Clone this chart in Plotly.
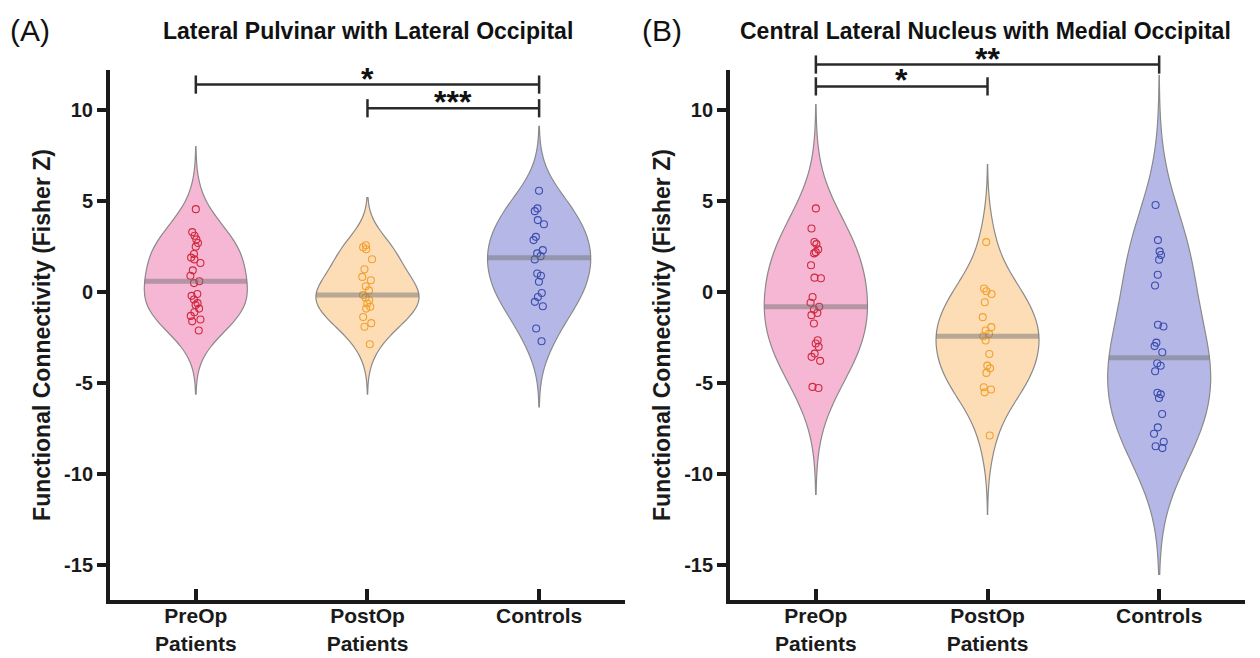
import numpy as np
import plotly.graph_objects as go

# ---------------- data ----------------
group_labels = ["PreOp<br>Patients", "PostOp<br>Patients", "Controls"]
group_pos = [0, 1, 2]
y_tick_vals = [-15, -10, -5, 0, 5, 10]
y_tick_text = ["-15", "-10", "-5", "0", "5", "10"]
panel_titles = ["Lateral Pulvinar with Lateral Occipital",
                "Central Lateral Nucleus with Medial Occipital"]
panel_letters = ["(A)", "(B)"]
y_title = "Functional Connectivity (Fisher Z)"

# Panel A: Lateral Pulvinar with Lateral Occipital
a_preop = [4.56, 3.3, 3.1, 2.9, 2.7, 2.5, 2.1, 1.9, 1.8, 1.6, 1.2, 0.9, 0.6,
           0.5, -0.1, -0.2, -0.4, -0.6, -0.7, -0.9, -1.1, -1.3, -1.5, -1.6, -2.1]
a_postop = [2.58, 2.47, 2.36, 1.81, 1.26, 0.84, 0.66, 0.33, 0.1, -0.16, -0.3,
            -0.44, -0.62, -0.8, -0.9, -1.36, -1.7, -1.9, -2.86]
a_controls = [5.57, 4.6, 4.45, 3.96, 3.73, 3.04, 2.86, 2.31, 2.13, 1.98, 1.8,
              1.03, 0.9, 0.57, -0.04, -0.26, -0.53, -0.77, -1.99, -2.69]

# Panel B: Central Lateral Nucleus with Medial Occipital
b_preop = [4.6, 3.5, 2.76, 2.64, 2.35, 2.2, 2.13, 1.48, 0.8, 0.77, -0.26, -0.58,
           -0.8, -0.95, -1.14, -1.26, -1.72, -2.64, -2.82, -3.0, -3.37, -3.55,
           -3.77, -5.2, -5.26]
b_postop = [2.75, 0.2, 0.05, -0.1, -0.55, -1.37, -1.92, -2.1, -2.29, -2.42,
            -2.65, -3.39, -4.03, -4.18, -4.43, -5.22, -5.34, -5.5, -7.87]
b_controls = [4.79, 2.86, 2.24, 2.04, 1.78, 0.96, 0.37, -1.79, -1.88, -2.77,
              -2.96, -3.3, -3.9, -4.04, -4.34, -5.52, -5.61, -5.81, -6.69,
              -7.42, -7.77, -8.21, -8.46, -8.56]

a_bandwidth = [1.35, 1.05, 1.4]
a_span = [[-5.6, 8.0], [-5.6, 5.2], [-6.3, 9.1]]
b_bandwidth = [2.2, 1.6, 2.7]
b_span = [[-11.1, 10.3], [-12.2, 7.0], [-15.5, 11.9]]

# significance brackets
a_sig_from = [0, 1]
a_sig_to = [2, 2]
a_sig_height = [11.4, 10.1]
a_sig_label = ["*", "***"]
b_sig_from = [0, 0]
b_sig_to = [2, 1]
b_sig_height = [12.5, 11.3]
b_sig_label = ["**", "*"]

# ---------------- styling ----------------
FONT = "Liberation Sans, Arial, sans-serif"
fill_colors = ["#F6B7D5", "#FDDDB6", "#B5B8E6"]
point_colors = ["#D0283C", "#F2A12E", "#3B4CB0"]
outline_color = "#8a8a8a"
median_color = "rgba(115,115,115,0.5)"
axis_color = "#1a1a1a"
TEXT_COLOR = "#1a1a1a"
VIOLIN_WIDTH = 0.6
Y_RANGE = [-16.9, 12.2]
X_RANGE = [-0.5, 2.5]


def kde(vals, bw, y):
    v = np.asarray(vals, dtype=float)
    y = np.asarray(y, dtype=float)
    return np.exp(-0.5 * ((y[:, None] - v[None, :]) / bw) ** 2).sum(axis=1)


def to_paper(v):
    return (v - Y_RANGE[0]) / (Y_RANGE[1] - Y_RANGE[0])


fig = go.Figure()

panels = [
    ([a_preop, a_postop, a_controls], a_bandwidth, a_span, "x", "y"),
    ([b_preop, b_postop, b_controls], b_bandwidth, b_span, "x2", "y2"),
]

for data, bws, spans, xa, ya in panels:
    for i, vals in enumerate(data):
        fig.add_trace(go.Violin(
            x=[group_pos[i]] * len(vals), y=vals, xaxis=xa, yaxis=ya,
            width=VIOLIN_WIDTH, bandwidth=bws[i], spanmode="manual", span=spans[i],
            fillcolor=fill_colors[i], line=dict(color=outline_color, width=1.2),
            points=False, showlegend=False, hoverinfo="skip", opacity=1))
    for i, vals in enumerate(data):
        med = float(np.median(vals))
        grid = np.linspace(spans[i][0], spans[i][1], 600)
        dmax = kde(vals, bws[i], grid).max()
        hw = VIOLIN_WIDTH / 2 * kde(vals, bws[i], [med])[0] / dmax
        fig.add_trace(go.Scatter(
            x=[group_pos[i] - hw, group_pos[i] + hw], y=[med, med],
            xaxis=xa, yaxis=ya, mode="lines",
            line=dict(color=median_color, width=5),
            showlegend=False, hoverinfo="skip"))
    for i, vals in enumerate(data):
        fig.add_trace(go.Violin(
            x=[group_pos[i]] * len(vals), y=vals, xaxis=xa, yaxis=ya,
            width=VIOLIN_WIDTH, bandwidth=bws[i], spanmode="manual", span=spans[i],
            fillcolor="rgba(0,0,0,0)", line=dict(color="rgba(0,0,0,0)", width=0),
            points="all", pointpos=0, jitter=0.12,
            marker=dict(symbol="circle-open", size=7, color=point_colors[i],
                        line=dict(width=1.1)),
            showlegend=False, hoverinfo="skip"))

shapes = []
annotations = []
BR_COLOR = "#2a2a2a"
TICK_H = 0.5
for xr, froms, tos, hs, labs in [("x", a_sig_from, a_sig_to, a_sig_height, a_sig_label),
                                 ("x2", b_sig_from, b_sig_to, b_sig_height, b_sig_label)]:
    for f, t, h, lab in zip(froms, tos, hs, labs):
        x0, x1 = group_pos[f], group_pos[t]
        shapes.append(dict(type="line", xref=xr, yref="paper", x0=x0, x1=x1,
                           y0=to_paper(h), y1=to_paper(h),
                           line=dict(color=BR_COLOR, width=2.5)))
        for xx in (x0, x1):
            shapes.append(dict(type="line", xref=xr, yref="paper", x0=xx, x1=xx,
                               y0=to_paper(h - TICK_H), y1=to_paper(h + TICK_H),
                               line=dict(color=BR_COLOR, width=2.5)))
        annotations.append(dict(text=lab, xref=xr, yref="paper",
                                x=(x0 + x1) / 2, y=to_paper(h),
                                yanchor="middle", xanchor="center", yshift=6,
                                showarrow=False,
                                font=dict(family=FONT, size=32, color="#111",
                                          weight="bold")))

for k, (xc, xl) in enumerate([(0.2273, -0.0899), (0.771, 0.467)]):
    annotations.append(dict(text=panel_titles[k], xref="paper", yref="paper",
                            x=xc, y=1.073, xanchor="center", yanchor="middle",
                            showarrow=False,
                            font=dict(family=FONT, size=23, color="#111", weight="bold")))
    annotations.append(dict(text=panel_letters[k], xref="paper", yref="paper",
                            x=xl, y=1.075, xanchor="left", yanchor="middle",
                            showarrow=False,
                            font=dict(family=FONT, size=30, color="#111")))

xaxis_common = dict(range=X_RANGE, tickvals=group_pos, ticktext=group_labels,
                    showline=True, linewidth=4, linecolor=axis_color,
                    ticks="inside", ticklen=11, tickwidth=4, tickcolor=axis_color,
                    showgrid=False, zeroline=False, automargin=False,
                    ticklabelstandoff=-6,
                    tickfont=dict(family=FONT, size=21, color=TEXT_COLOR, weight="bold"))
yaxis_common = dict(range=Y_RANGE, tickvals=y_tick_vals, ticktext=y_tick_text,
                    showline=True, linewidth=4, linecolor=axis_color,
                    ticks="outside", ticklen=9, tickwidth=4, tickcolor=axis_color,
                    showgrid=False, zeroline=False, automargin=False,
                    tickfont=dict(family=FONT, size=20, color=TEXT_COLOR, weight="bold"),
                    title=dict(text=y_title, standoff=8,
                               font=dict(family=FONT, size=23, color=TEXT_COLOR,
                                         weight="bold")))

fig.update_layout(
    width=1252, height=650,
    margin=dict(l=102, r=15, t=62, b=58),
    paper_bgcolor="white", plot_bgcolor="white",
    violinmode="overlay", showlegend=False,
    xaxis=dict(domain=[0, 0.4537], anchor="y", **xaxis_common),
    yaxis=dict(domain=[0, 1], anchor="x", **yaxis_common),
    xaxis2=dict(domain=[0.5463, 1], anchor="y2", **xaxis_common),
    yaxis2=dict(domain=[0, 1], anchor="x2", **yaxis_common),
    shapes=shapes, annotations=annotations,
)

fig.write_html("out.html")
